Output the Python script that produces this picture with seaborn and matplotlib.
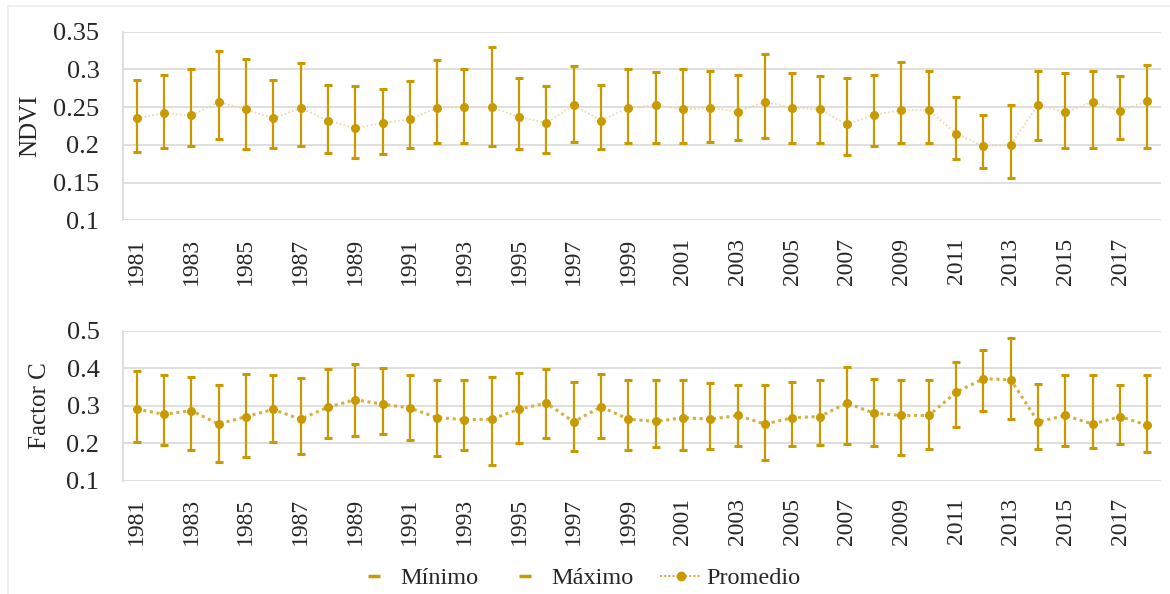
import numpy as np
import pandas as pd
import matplotlib.pyplot as plt
import seaborn as sns
from matplotlib.lines import Line2D
from matplotlib.patches import Rectangle

years = list(range(1981, 2019))

ndvi_mean = [0.235, 0.242, 0.239, 0.257, 0.247, 0.235, 0.249, 0.232, 0.222, 0.229,
             0.234, 0.249, 0.250, 0.250, 0.237, 0.229, 0.253, 0.232, 0.249, 0.253,
             0.247, 0.249, 0.244, 0.257, 0.249, 0.247, 0.227, 0.240, 0.246, 0.246,
             0.215, 0.198, 0.200, 0.253, 0.243, 0.257, 0.245, 0.258]
ndvi_max = [0.286, 0.293, 0.301, 0.325, 0.314, 0.286, 0.308, 0.280, 0.278, 0.274,
            0.285, 0.312, 0.301, 0.330, 0.288, 0.278, 0.304, 0.280, 0.301, 0.296,
            0.301, 0.298, 0.293, 0.320, 0.295, 0.291, 0.289, 0.293, 0.310, 0.298,
            0.264, 0.239, 0.253, 0.298, 0.295, 0.298, 0.291, 0.306]
ndvi_min = [0.191, 0.196, 0.198, 0.208, 0.194, 0.196, 0.199, 0.189, 0.183, 0.188,
            0.196, 0.202, 0.202, 0.198, 0.194, 0.189, 0.204, 0.194, 0.202, 0.202,
            0.202, 0.204, 0.207, 0.209, 0.202, 0.202, 0.186, 0.199, 0.202, 0.202,
            0.181, 0.169, 0.156, 0.206, 0.196, 0.196, 0.208, 0.196]

c_mean = [0.291, 0.277, 0.287, 0.251, 0.271, 0.290, 0.264, 0.296, 0.316, 0.304,
          0.294, 0.268, 0.263, 0.264, 0.291, 0.307, 0.257, 0.297, 0.264, 0.258,
          0.268, 0.264, 0.274, 0.251, 0.268, 0.271, 0.307, 0.280, 0.274, 0.274,
          0.336, 0.372, 0.369, 0.257, 0.274, 0.251, 0.271, 0.248]
c_max = [0.393, 0.381, 0.377, 0.354, 0.384, 0.381, 0.375, 0.397, 0.411, 0.400,
         0.381, 0.368, 0.368, 0.377, 0.388, 0.397, 0.364, 0.384, 0.368, 0.368,
         0.368, 0.361, 0.354, 0.354, 0.364, 0.368, 0.404, 0.371, 0.368, 0.368,
         0.416, 0.449, 0.481, 0.358, 0.381, 0.381, 0.354, 0.381]
c_min = [0.204, 0.195, 0.182, 0.149, 0.162, 0.204, 0.172, 0.215, 0.218, 0.224,
         0.208, 0.166, 0.182, 0.143, 0.201, 0.215, 0.178, 0.215, 0.182, 0.189,
         0.182, 0.185, 0.192, 0.156, 0.192, 0.195, 0.198, 0.192, 0.168, 0.185,
         0.244, 0.287, 0.264, 0.185, 0.192, 0.188, 0.198, 0.176]

gold = "#C89A00"
sns.set_style("white")
plt.rcParams["font.family"] = ["Liberation Serif", "DejaVu Serif"]

fig = plt.figure(figsize=(11.7, 5.94), dpi=100)
fig.patches.append(Rectangle((8 / 1170, -0.05), 1.2, 1 - 6 / 594 + 0.05,
                             transform=fig.transFigure, fill=False,
                             edgecolor="#ececec", linewidth=1.2))

ax1 = fig.add_axes([123 / 1170, 1 - 220.3 / 594, (1161 - 123) / 1170, (220.3 - 31.7) / 594])
ax2 = fig.add_axes([123 / 1170, 1 - 480.7 / 594, (1161 - 123) / 1170, (480.7 - 330.7) / 594])


def draw(ax, mean, lo, hi, ylim, yticks, ylabel, line_color, line_w, ticklabels, lpad):
    df = pd.DataFrame({"x": np.arange(len(years)), "mean": mean, "lo": lo, "hi": hi})
    ax.errorbar(df["x"], df["mean"],
                yerr=[df["mean"] - df["lo"], df["hi"] - df["mean"]],
                fmt="none", ecolor=gold, elinewidth=1.6, capsize=3.2, capthick=2.2, zorder=2)
    sns.lineplot(data=df, x="x", y="mean", ax=ax, color=line_color,
                 linestyle=(0, (1, 1.2)), linewidth=line_w, zorder=3)
    sns.scatterplot(data=df, x="x", y="mean", ax=ax, color=gold, s=42,
                    edgecolor=gold, linewidth=0, zorder=4)
    ax.set_xlim(-0.5, len(years) - 0.5)
    ax.set_ylim(*ylim)
    ax.set_yticks(yticks)
    ax.set_yticklabels(ticklabels, fontsize=19)
    ax.set_xticks(np.arange(0, len(years), 2))
    ax.set_xticklabels([str(y) for y in years[::2]], rotation=90, fontsize=17)
    ax.tick_params(axis="y", length=0, pad=17)
    ax.tick_params(axis="x", length=0, pad=12.5)
    ax.grid(axis="y", color="#d9d9d9", linewidth=1.2)
    for s in ["top", "right", "bottom"]:
        ax.spines[s].set_visible(False)
    ax.spines["left"].set_color("#d9d9d9")
    ax.spines["left"].set_linewidth(1.2)
    ax.set_xlabel("")
    ax.set_ylabel(ylabel, fontsize=18, labelpad=lpad)


draw(ax1, ndvi_mean, ndvi_min, ndvi_max, (0.1, 0.35),
     [0.1, 0.15, 0.2, 0.25, 0.3, 0.35], "NDVI", "#e9dcae", 1.3,
     ["0.1", "0.15", "0.2", "0.25", "0.3", "0.35"], 9)
draw(ax2, c_mean, c_min, c_max, (0.1, 0.5),
     [0.1, 0.2, 0.3, 0.4, 0.5], "Factor C", "#d4b040", 2.2,
     ["0.1", "0.2", "0.3", "0.4", "0.5"], 11)

handles = [
    Line2D([], [], marker="_", linestyle="None", color=gold, markersize=8, markeredgewidth=2.5),
    Line2D([], [], marker="_", linestyle="None", color=gold, markersize=8, markeredgewidth=2.5),
    Line2D([], [], marker="o", linestyle=(0, (1, 1)), color="#d4b040", markersize=6,
           markerfacecolor=gold, markeredgecolor=gold, linewidth=1.5),
]
fig.legend(handles, ["Mínimo", "Máximo", "Promedio"], loc="center",
           bbox_to_anchor=(577 / 1170, 1 - 578 / 594), ncol=3, frameon=False,
           fontsize=17.5, handlelength=1.7, columnspacing=1.1, handletextpad=0.2)

fig.savefig("out.png", dpi=100)
